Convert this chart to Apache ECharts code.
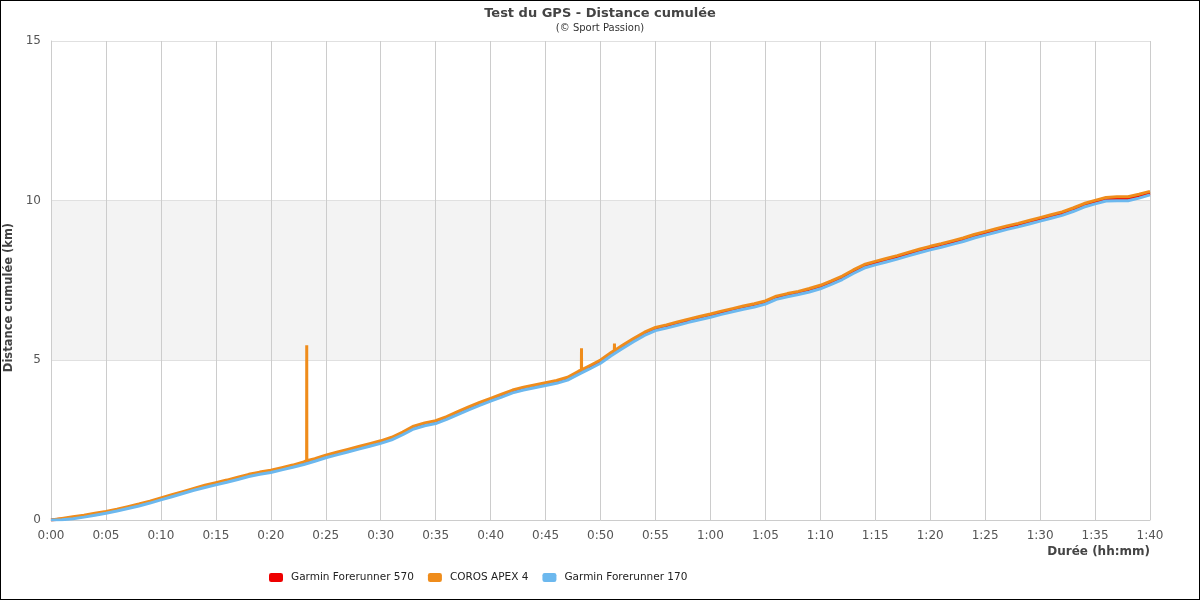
<!DOCTYPE html>
<html lang="fr">
<head>
    <meta charset="UTF-8">
    <title>Test du GPS - Distance cumulée</title>
    <style>
        html, body { margin: 0; padding: 0; background: #fff; }
        #distance { width: 1198px; height: 598px; border: 1px solid #000; }
    </style>
</head>
<body>

<div id="distance"></div>

<script src="https://cdn.jsdelivr.net/npm/echarts@6/dist/echarts.min.js"></script>
<script type="text/javascript">
    // durée en minutes (0:00 -> 1:40)
    var minutes = [];
    for (var m = 0; m <= 100; m++) { minutes.push(m); }

    var yTicks = [0, 5, 10, 15];

    var garmin570 = [0.00,0.03,0.07,0.12,0.18,0.24,0.31,0.39,0.47,0.56,
        0.66,0.76,0.86,0.96,1.06,1.14,1.22,1.31,1.40,1.47,
        1.53,1.61,1.69,1.78,1.88,1.99,2.08,2.17,2.26,2.35,
        2.44,2.55,2.71,2.90,3.00,3.07,3.20,3.35,3.50,3.64,
        3.77,3.90,4.03,4.12,4.19,4.26,4.33,4.43,4.62,4.79,
        4.97,5.21,5.43,5.64,5.84,5.99,6.07,6.16,6.25,6.33,
        6.41,6.50,6.58,6.66,6.73,6.82,6.97,7.05,7.12,7.20,
        7.30,7.44,7.59,7.78,7.95,8.05,8.14,8.23,8.33,8.43,
        8.52,8.60,8.69,8.78,8.89,8.98,9.07,9.16,9.24,9.33,
        9.42,9.51,9.60,9.72,9.86,9.96,10.05,10.07,10.07,10.15,
        10.24];

    var corosApex4 = [0.00,0.05,0.10,0.15,0.21,0.27,0.34,0.42,0.50,0.59,
        0.69,0.79,0.89,0.99,1.09,1.17,1.25,1.34,1.43,1.50,
        1.56,1.64,1.72,1.82,1.92,2.03,2.12,2.21,2.30,2.39,
        2.48,2.59,2.75,2.94,3.04,3.11,3.24,3.39,3.54,3.68,
        3.81,3.94,4.07,4.16,4.23,4.30,4.37,4.47,4.66,4.83,
        5.01,5.25,5.47,5.68,5.88,6.03,6.11,6.20,6.29,6.37,
        6.45,6.54,6.62,6.70,6.77,6.86,7.01,7.09,7.16,7.25,
        7.35,7.49,7.64,7.83,8.00,8.10,8.19,8.28,8.38,8.48,
        8.57,8.65,8.74,8.83,8.94,9.03,9.12,9.21,9.29,9.38,
        9.47,9.56,9.65,9.77,9.91,10.01,10.10,10.12,10.12,10.20,
        10.29];

    // pics aberrants du COROS
    var spikeTimes = [23.27, 48.27, 51.27];
    var spikeBase  = [1.86, 4.70, 5.31];
    var spikePeak  = [5.47, 5.38, 5.53];

    var garmin170 = [0.00,0.01,0.04,0.09,0.15,0.21,0.28,0.36,0.44,0.53,
        0.63,0.73,0.83,0.93,1.02,1.10,1.18,1.27,1.36,1.43,
        1.49,1.57,1.65,1.74,1.84,1.95,2.04,2.13,2.22,2.31,
        2.40,2.51,2.67,2.85,2.95,3.02,3.15,3.30,3.45,3.59,
        3.72,3.85,3.98,4.07,4.14,4.21,4.28,4.38,4.56,4.73,
        4.91,5.15,5.37,5.58,5.78,5.93,6.01,6.10,6.19,6.27,
        6.35,6.44,6.52,6.60,6.67,6.76,6.91,6.99,7.06,7.14,
        7.24,7.38,7.53,7.72,7.89,7.99,8.08,8.17,8.27,8.37,
        8.46,8.54,8.63,8.72,8.83,8.92,9.01,9.10,9.18,9.27,
        9.36,9.45,9.54,9.66,9.80,9.90,9.99,10.00,10.00,10.08,
        10.18];

    var legendData = ['Garmin Forerunner 570', 'COROS APEX 4', 'Garmin Forerunner 170'];
    var colors = ['#ee0000', '#ef8c1b', '#6cb8ee'];

    function pairs(vals) {
        var out = [];
        for (var i = 0; i < minutes.length; i++) { out.push([minutes[i], vals[i]]); }
        return out;
    }

    function withSpikes(vals) {
        var out = pairs(vals);
        for (var k = 0; k < spikeTimes.length; k++) {
            out.push([spikeTimes[k] - 0.01, spikeBase[k]]);
            out.push([spikeTimes[k], spikePeak[k]]);
            out.push([spikeTimes[k] + 0.01, spikeBase[k]]);
        }
        out.sort(function (a, b) { return a[0] - b[0]; });
        return out;
    }

    function hhmm(v) {
        var h = Math.floor(v / 60), mm = Math.round(v - h * 60);
        return h + ':' + (mm < 10 ? '0' + mm : mm);
    }

    var chart = echarts.init(document.getElementById('distance'));

    var font = 'DejaVu Sans';
    var series = [
        { name: legendData[0], data: pairs(garmin570) },
        { name: legendData[1], data: withSpikes(corosApex4) },
        { name: legendData[2], data: pairs(garmin170) }
    ].map(function (s, i) {
        return {
            name: s.name,
            type: 'line',
            data: s.data,
            showSymbol: false,
            lineStyle: { width: 3, color: colors[i] },
            itemStyle: { color: colors[i] }
        };
    });

    var option = {
        animation: false,
        textStyle: { fontFamily: font },
        title: {
            text: 'Test du GPS - Distance cumulée',
            subtext: '(© Sport Passion)',
            left: 'center',
            top: 1,
            itemGap: 3,
            textStyle: { fontFamily: font, fontSize: 13, fontWeight: 'bold', color: '#444' },
            subtextStyle: { fontFamily: font, fontSize: 10, color: '#333' }
        },
        legend: {
            data: legendData,
            left: 263,
            top: 566,
            icon: 'roundRect',
            itemWidth: 14,
            itemHeight: 9,
            itemGap: 14,
            textStyle: { fontFamily: font, fontSize: 10.5, color: '#222', padding: [0, 0, 0, 3] }
        },
        grid: { left: 50, right: 49, top: 40, bottom: 79, outerBoundsMode: 'none' },
        xAxis: {
            type: 'value',
            min: 0,
            max: 100,
            interval: 5,
            name: 'Durée (hh:mm)',
            nameLocation: 'end',
            nameGap: 0,
            nameTextStyle: { fontFamily: font, fontSize: 12, fontWeight: 'bold', color: '#444',
                align: 'right', verticalAlign: 'top', padding: [26, 0, 0, 0] },
            axisLine: { lineStyle: { color: '#ccc' } },
            axisTick: { show: false },
            axisLabel: { formatter: hhmm, fontSize: 12, color: '#555', margin: 10 },
            splitLine: { show: true, lineStyle: { color: '#ccc' } }
        },
        yAxis: {
            type: 'value',
            min: yTicks[0],
            max: yTicks[yTicks.length - 1],
            interval: 5,
            name: 'Distance cumulée (km)',
            nameLocation: 'middle',
            nameRotate: 90,
            nameGap: 33,
            nameTextStyle: { fontFamily: font, fontSize: 11.5, fontWeight: 'bold', color: '#444',
                padding: [0, 34, 0, 0] },
            axisLine: { show: true, lineStyle: { color: '#ccc' } },
            axisTick: { show: false },
            axisLabel: { fontSize: 12, color: '#555', margin: 10 },
            splitLine: { show: true, lineStyle: { color: '#e0e0e0' } },
            splitArea: { show: true, areaStyle: { color: ['#ffffff', '#f3f3f3', '#ffffff'] } }
        },
        series: series
    };

    chart.setOption(option);
</script>
</body>
</html>
